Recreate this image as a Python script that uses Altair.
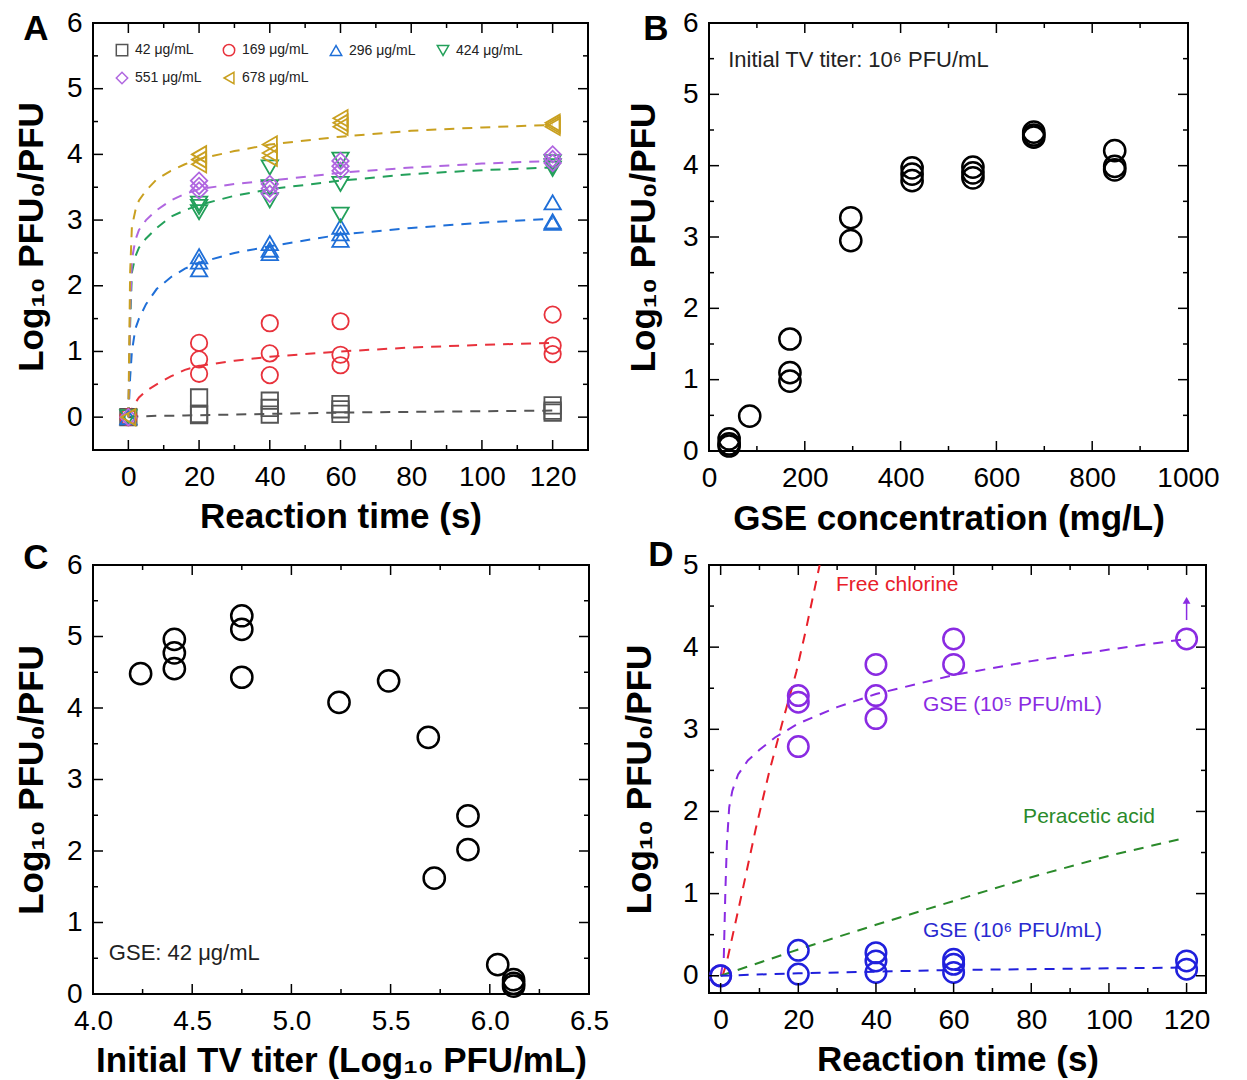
import altair as alt
import pandas as pd

FONT = "Liberation Sans"
YTITLE = "Log₁₀ PFU₀/PFU"

# ---------------- Panel A data ----------------
A_NAMES = ["42 μg/mL", "169 μg/mL", "296 μg/mL", "424 μg/mL", "551 μg/mL", "678 μg/mL"]
A_COLORS = ["#555555", "#e8323c", "#1f6fd8", "#23a05a", "#b066e0", "#c9a020"]
A_SHAPES = ["square", "circle", "triangle-up", "triangle-down", "diamond", "triangle-left"]
A_T = [0, 20, 20, 20, 40, 40, 40, 60, 60, 60, 120, 120, 120]
A_42 = [0, 0.30, 0.05, 0.03, 0.25, 0.14, 0.04, 0.20, 0.12, 0.05, 0.18, 0.10, 0.07]
A_169 = [0, 1.13, 0.88, 0.66, 1.43, 0.97, 0.64, 1.46, 0.95, 0.79, 1.56, 1.09, 0.96]
A_296 = [0, 2.45, 2.37, 2.25, 2.65, 2.55, 2.50, 2.90, 2.80, 2.70, 3.27, 2.98, 2.96]
A_424 = [0, 3.25, 3.20, 3.12, 3.80, 3.50, 3.30, 3.92, 3.55, 3.08, 3.88, 3.82, 3.78]
A_551 = [0, 3.60, 3.52, 3.45, 3.55, 3.48, 3.40, 3.90, 3.82, 3.75, 4.00, 3.93, 3.87]
A_678 = [0, 4.00, 3.92, 3.85, 4.15, 4.02, 3.95, 4.55, 4.48, 4.42, 4.48, 4.45, 4.42]
A_FIT_T = [0, 0.5, 1, 2, 3, 5, 8, 12, 16, 20, 30, 40, 60, 80, 100, 120]
A_FIT_42 = [0, 0, 0.005, 0.01, 0.01, 0.015, 0.02, 0.02, 0.025, 0.03, 0.04, 0.05, 0.07, 0.08, 0.09, 0.10]
A_FIT_169 = [0, 0.06, 0.12, 0.22, 0.30, 0.40, 0.50, 0.62, 0.72, 0.78, 0.86, 0.92, 1.00, 1.06, 1.10, 1.13]
A_FIT_296 = [0, 0.6, 1.0, 1.35, 1.5, 1.72, 1.95, 2.13, 2.26, 2.35, 2.5, 2.6, 2.78, 2.88, 2.96, 3.02]
A_FIT_424 = [0, 1.4, 2.2, 2.45, 2.58, 2.72, 2.88, 3.05, 3.15, 3.23, 3.37, 3.47, 3.6, 3.7, 3.76, 3.8]
A_FIT_551 = [0, 1.6, 2.4, 2.7, 2.85, 3.0, 3.15, 3.3, 3.4, 3.47, 3.55, 3.6, 3.72, 3.8, 3.86, 3.9]
A_FIT_678 = [0, 2.2, 2.9, 3.15, 3.3, 3.45, 3.62, 3.75, 3.85, 3.93, 4.05, 4.15, 4.27, 4.36, 4.41, 4.45]

# ---------------- Panel B data ----------------
B_X = [42, 42, 42, 85, 169, 169, 169, 296, 296, 424, 424, 424, 551, 551, 551, 678, 678, 678, 847, 847, 847]
B_Y = [0.17, 0.10, 0.07, 0.49, 1.57, 1.10, 0.98, 3.27, 2.95, 3.97, 3.88, 3.79, 3.98, 3.90, 3.83, 4.47, 4.43, 4.40, 4.21, 3.99, 3.94]
B_NOTE = ["Initial TV titer: 10⁶ PFU/mL"]
B_NOTE_X = [40]
B_NOTE_Y = [5.48]

# ---------------- Panel C data ----------------
C_X = [4.24, 4.41, 4.41, 4.41, 4.75, 4.75, 4.75, 5.24, 5.49, 5.69, 5.72, 5.89, 5.89, 6.04, 6.12, 6.12, 6.12]
C_Y = [4.48, 4.96, 4.77, 4.55, 5.29, 5.10, 4.43, 4.08, 4.38, 3.59, 1.62, 2.49, 2.02, 0.41, 0.20, 0.15, 0.11]
C_NOTE = ["GSE: 42 μg/mL"]
C_NOTE_X = [4.08]
C_NOTE_Y = [0.57]

# ---------------- Panel D data ----------------
D_P_T = [0, 20, 20, 20, 40, 40, 40, 60, 60, 120]
D_P_Y = [0, 3.41, 3.33, 2.79, 3.79, 3.41, 3.13, 4.10, 3.79, 4.10]
D_B_T = [0, 20, 20, 40, 40, 40, 60, 60, 60, 120, 120]
D_B_Y = [0, 0.31, 0.02, 0.28, 0.18, 0.04, 0.20, 0.14, 0.04, 0.18, 0.08]
D_FIT_P_T = [0, 0.8, 1.2, 1.6, 2.2, 3, 4.5, 7, 10, 14, 20, 30, 40, 60, 80, 100, 120]
D_FIT_P_Y = [0, 0.2, 1.0, 1.6, 2.05, 2.25, 2.45, 2.62, 2.75, 2.9, 3.07, 3.27, 3.43, 3.66, 3.83, 3.97, 4.1]
D_FIT_R_T = [0.5, 1.5, 5, 9, 12.5, 16, 19.5, 22, 25.5]
D_FIT_R_Y = [0, 0.15, 0.9, 1.78, 2.48, 3.1, 3.7, 4.22, 5.0]
D_FIT_G_T = [0, 20, 40, 60, 80, 100, 118]
D_FIT_G_Y = [0, 0.32, 0.62, 0.91, 1.2, 1.46, 1.66]
D_FIT_B_T = [0, 20, 40, 60, 80, 100, 120]
D_FIT_B_Y = [0, 0.03, 0.05, 0.07, 0.08, 0.09, 0.10]
D_ARROW_T = [120]
D_ARROW_Y0 = [4.33]
D_ARROW_Y1 = [4.57]
D_LABELS = ["Free chlorine", "GSE (10⁵ PFU/mL)", "Peracetic acid", "GSE (10⁶ PFU/mL)"]
D_LABEL_T = [29.7, 52.1, 77.9, 52.1]
D_LABEL_Y = [4.76, 3.29, 1.93, 0.55]
D_LABEL_COLORS = ["#e8202a", "#8a2be2", "#2a8a2a", "#2a2ad0"]
D_PURPLE = "#8a2be2"
D_BLUE = "#2020dc"
D_RED = "#e8202a"
D_GREEN = "#2a8a2a"

DASH = [10, 8]
LABEL_FS = 28
TITLE_FS = 35


def sc(dom):
    return alt.Scale(domain=dom, nice=False, zero=False)


def xaxis(title, values, fmt=None, tpad=8):
    kw = dict(title=title, values=values, labelPadding=13, titlePadding=tpad)
    if fmt:
        kw["format"] = fmt
    return alt.Axis(**kw)


def yaxis(values, tpad):
    return alt.Axis(title=YTITLE, values=values, labelPadding=11, titlePadding=tpad)


class P:
    def __init__(self, xs, ys, xa, ya):
        self.xs, self.ys, self.xa, self.ya = xs, ys, xa, ya

    def X(self, f):
        return alt.X(f, scale=self.xs, axis=self.xa)

    def Y(self, f):
        return alt.Y(f, scale=self.ys, axis=self.ya)


def tick_layers(p, xmaj, xmin, ymaj, ymin, W, H):
    layers = []
    for vals, L in ((xmaj, 10), (xmin, 5)):
        base = alt.Chart(pd.DataFrame({"v": vals})).mark_rule(color="black", strokeWidth=1.5)
        layers.append(base.encode(x=p.X("v:Q"), y=alt.value(H), y2=alt.value(H - L)))
        layers.append(base.encode(x=p.X("v:Q"), y=alt.value(0), y2=alt.value(L)))
    for vals, L in ((ymaj, 10), (ymin, 5)):
        base = alt.Chart(pd.DataFrame({"v": vals})).mark_rule(color="black", strokeWidth=1.5)
        layers.append(base.encode(y=p.Y("v:Q"), x=alt.value(0), x2=alt.value(L)))
        layers.append(base.encode(y=p.Y("v:Q"), x=alt.value(W - L), x2=alt.value(W)))
    return layers


def letter(ch, dx, dy):
    return alt.Chart(pd.DataFrame({"t": [ch]})).mark_text(
        font=FONT, fontSize=35, fontWeight="bold", color="black", align="center", baseline="middle"
    ).encode(text="t:N", x=alt.value(dx), y=alt.value(dy))


def note(p, xs_, ys_, texts, size=22, color="#222222"):
    return alt.Chart(pd.DataFrame({"x": xs_, "y": ys_, "t": texts})).mark_text(
        font=FONT, fontSize=size, align="left", baseline="middle", color=color
    ).encode(x=p.X("x:Q"), y=p.Y("y:Q"), text="t:N")


# ---------------- Panel A ----------------
WA, HA = 495, 427
pA = P(sc([-10, 130]), sc([-0.5, 6]),
       xaxis("Reaction time (s)", [0, 20, 40, 60, 80, 100, 120]), yaxis([0, 1, 2, 3, 4, 5, 6], 17))
pts = []
for name, ys_ in zip(A_NAMES, [A_42, A_169, A_296, A_424, A_551, A_678]):
    for t, y in zip(A_T, ys_):
        pts.append({"conc": name, "t": t, "y": y})
dfA = pd.DataFrame(pts)
fits = []
for name, ys_ in zip(A_NAMES, [A_FIT_42, A_FIT_169, A_FIT_296, A_FIT_424, A_FIT_551, A_FIT_678]):
    for t, y in zip(A_FIT_T, ys_):
        fits.append({"conc": name, "t": t, "y": y})
dfAf = pd.DataFrame(fits)

legA = alt.Legend(orient="none", legendX=22, legendY=20, columns=4, direction="horizontal", title=None,
                  labelFont=FONT, labelFontSize=14, labelColor="#222222", symbolSize=130,
                  symbolStrokeWidth=1.5, columnPadding=18, rowPadding=10, labelOffset=6, padding=0)
linesA = alt.Chart(dfAf).mark_line(strokeDash=DASH, strokeWidth=2).encode(
    x=pA.X("t:Q"), y=pA.Y("y:Q"),
    color=alt.Color("conc:N", scale=alt.Scale(domain=A_NAMES, range=A_COLORS), legend=None),
    detail="conc:N",
    order="t:Q",
)
ptsA = alt.Chart(dfA).mark_point(filled=False, size=270, strokeWidth=1.8, opacity=1).encode(
    x=pA.X("t:Q"), y=pA.Y("y:Q"),
    color=alt.Color("conc:N", scale=alt.Scale(domain=A_NAMES, range=A_COLORS), legend=legA),
    shape=alt.Shape("conc:N", scale=alt.Scale(domain=A_NAMES, range=A_SHAPES), legend=legA),
)
panelA = alt.layer(
    linesA, ptsA,
    *tick_layers(pA, [0, 20, 40, 60, 80, 100, 120], [10, 30, 50, 70, 90, 110],
                 [0, 1, 2, 3, 4, 5], [0.5, 1.5, 2.5, 3.5, 4.5, 5.5], WA, HA),
    letter("A", -57, 6),
).resolve_scale(color="independent", shape="independent").properties(width=WA, height=HA)

# ---------------- Panel B ----------------
WB, HB = 479, 428
pB = P(sc([0, 1000]), sc([0, 6]),
       xaxis("GSE concentration (mg/L)", [0, 200, 400, 600, 800, 1000], "d", tpad=9),
       yaxis([0, 1, 2, 3, 4, 5, 6], 21))
ptsB = alt.Chart(pd.DataFrame({"x": B_X, "y": B_Y})).mark_point(
    filled=False, size=450, strokeWidth=2.5, color="black", opacity=1
).encode(x=pB.X("x:Q"), y=pB.Y("y:Q"))
panelB = alt.layer(
    ptsB, note(pB, B_NOTE_X, B_NOTE_Y, B_NOTE),
    *tick_layers(pB, [200, 400, 600, 800], [100, 300, 500, 700, 900],
                 [1, 2, 3, 4, 5], [0.5, 1.5, 2.5, 3.5, 4.5, 5.5], WB, HB),
    letter("B", -53, 6),
).properties(width=WB, height=HB)

# ---------------- Panel C ----------------
WC, HC = 496, 429
pC = P(sc([4.0, 6.5]), sc([0, 6]),
       xaxis("Initial TV titer (Log₁₀ PFU/mL)", [4.0, 4.5, 5.0, 5.5, 6.0, 6.5], ".1f", tpad=8),
       yaxis([0, 1, 2, 3, 4, 5, 6], 17))
ptsC = alt.Chart(pd.DataFrame({"x": C_X, "y": C_Y})).mark_point(
    filled=False, size=450, strokeWidth=2.5, color="black", opacity=1
).encode(x=pC.X("x:Q"), y=pC.Y("y:Q"))
panelC = alt.layer(
    ptsC, note(pC, C_NOTE_X, C_NOTE_Y, C_NOTE),
    *tick_layers(pC, [4.5, 5.0, 5.5, 6.0], [4.25, 4.75, 5.25, 5.75, 6.25],
                 [1, 2, 3, 4, 5], [0.5, 1.5, 2.5, 3.5, 4.5, 5.5], WC, HC),
    letter("C", -57, -7),
).properties(width=WC, height=HC)

# ---------------- Panel D ----------------
WD, HD = 497, 428
pD = P(sc([-3, 125]), sc([-0.21, 5]),
       xaxis("Reaction time (s)", [0, 20, 40, 60, 80, 100, 120]), yaxis([0, 1, 2, 3, 4, 5], 25))


def dline(ts, ys_, col):
    return alt.Chart(pd.DataFrame({"t": ts, "y": ys_})).mark_line(
        strokeDash=DASH, strokeWidth=2, color=col, clip=True
    ).encode(x=pD.X("t:Q"), y=pD.Y("y:Q"), order="t:Q")


def dpts(ts, ys_, col):
    return alt.Chart(pd.DataFrame({"t": ts, "y": ys_})).mark_point(
        filled=False, size=420, strokeWidth=2.5, color=col, opacity=1
    ).encode(x=pD.X("t:Q"), y=pD.Y("y:Q"))


arrowD = alt.Chart(pd.DataFrame({"t": D_ARROW_T, "y0": D_ARROW_Y0, "y1": D_ARROW_Y1})).mark_rule(
    color=D_PURPLE, strokeWidth=1.5
).encode(x=pD.X("t:Q"), y=pD.Y("y0:Q"), y2="y1:Q")
headD = alt.Chart(pd.DataFrame({"t": D_ARROW_T, "y": D_ARROW_Y1})).mark_point(
    shape="triangle-up", filled=True, size=60, color=D_PURPLE, opacity=1
).encode(x=pD.X("t:Q"), y=pD.Y("y:Q"))
labD = alt.Chart(pd.DataFrame({"t": D_LABEL_T, "y": D_LABEL_Y, "s": D_LABELS, "c": D_LABEL_COLORS})).mark_text(
    font=FONT, fontSize=21, align="left", baseline="middle"
).encode(x=pD.X("t:Q"), y=pD.Y("y:Q"), text="s:N", color=alt.Color("c:N", scale=None))

panelD = alt.layer(
    dline(D_FIT_P_T, D_FIT_P_Y, D_PURPLE),
    dline(D_FIT_R_T, D_FIT_R_Y, D_RED),
    dline(D_FIT_G_T, D_FIT_G_Y, D_GREEN),
    dline(D_FIT_B_T, D_FIT_B_Y, D_BLUE),
    dpts(D_P_T, D_P_Y, D_PURPLE),
    dpts(D_B_T, D_B_Y, D_BLUE),
    arrowD, headD, labD,
    *tick_layers(pD, [0, 20, 40, 60, 80, 100, 120], [10, 30, 50, 70, 90, 110],
                 [0, 1, 2, 3, 4], [0.5, 1.5, 2.5, 3.5, 4.5], WD, HD),
    letter("D", -48, -10),
).properties(width=WD, height=HD)

chart = alt.concat(
    panelA, panelB, panelC, panelD, columns=2,
    spacing={"row": 114, "column": 120}, bounds="flush"
).properties(
    padding={"left": 5, "top": 0, "right": 5, "bottom": 0}, background="white"
).configure_view(stroke="black", strokeWidth=2).configure_axis(
    labelFont=FONT, titleFont=FONT, labelFontSize=LABEL_FS, titleFontSize=TITLE_FS, titleFontWeight="bold",
    labelColor="black", titleColor="black", grid=False, ticks=False, tickSize=0, domain=False,
    labelFlush=False, labelOverlap=False
)

chart.save("out.html", embed_options={"renderer": "svg", "actions": False})
